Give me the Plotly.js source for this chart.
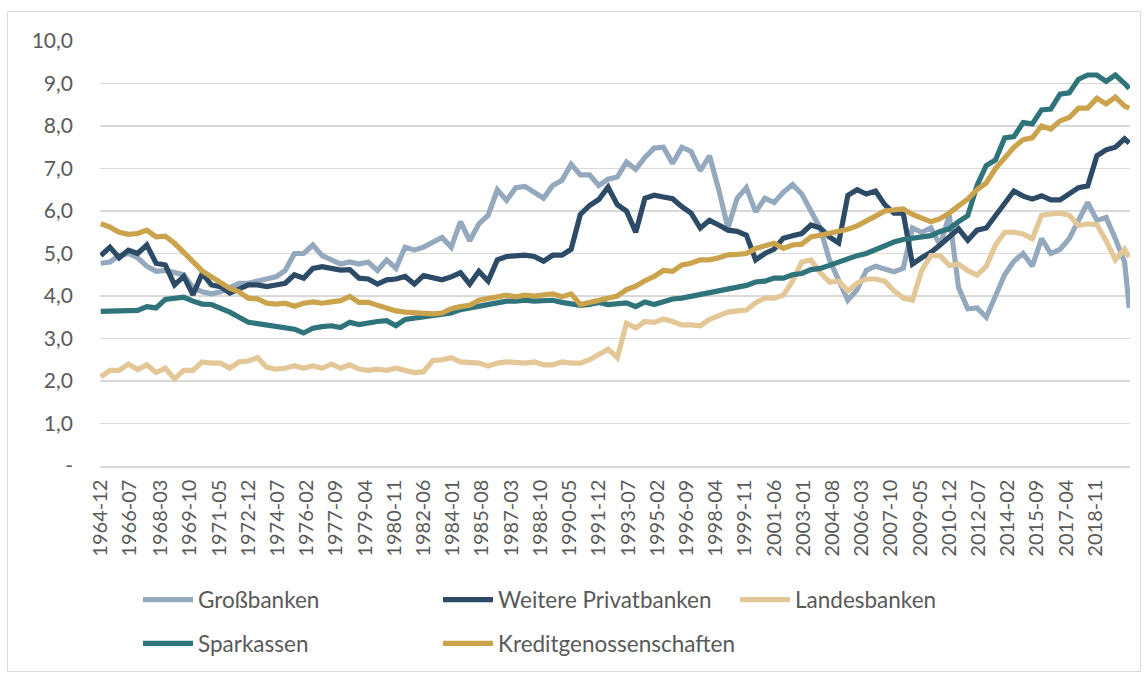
<!DOCTYPE html>
<html>
<head>
<meta charset="utf-8">
<script src="https://cdn.plot.ly/plotly-3.0.1.min.js"></script>
<style>
  html, body { margin: 0; padding: 0; background: #ffffff; }
  #wrap { position: relative; width: 1147px; height: 677px; }
  #chart { position: absolute; left: 0; top: 0; width: 1147px; height: 677px; }
  #frame { position: absolute; left: 7px; top: 11px; width: 1134px; height: 661px;
           border: 1px solid #d9d9d9; box-sizing: border-box; pointer-events: none; }
</style>
</head>
<body>
<div id="wrap">
  <div id="chart"></div>
  <div id="frame"></div>
</div>
<script>
// Semi-annual sample dates (first month of the sample)
const dates = [
  "1964-12",
  "1965-06","1965-12","1966-06","1966-12","1967-06","1967-12","1968-06","1968-12","1969-06","1969-12",
  "1970-06","1970-12","1971-06","1971-12","1972-06","1972-12","1973-06","1973-12","1974-06","1974-12",
  "1975-06","1975-12","1976-06","1976-12","1977-06","1977-12","1978-06","1978-12","1979-06","1979-12",
  "1980-06","1980-12","1981-06","1981-12","1982-06","1982-12","1983-06","1983-12","1984-06","1984-12",
  "1985-06","1985-12","1986-06","1986-12","1987-06","1987-12","1988-06","1988-12","1989-06","1989-12",
  "1990-06","1990-12","1991-06","1991-12","1992-06","1992-12","1993-06","1993-12","1994-06","1994-12",
  "1995-06","1995-12","1996-06","1996-12","1997-06","1997-12","1998-06","1998-12","1999-06","1999-12",
  "2000-06","2000-12","2001-06","2001-12","2002-06","2002-12","2003-06","2003-12","2004-06","2004-12",
  "2005-06","2005-12","2006-06","2006-12","2007-06","2007-12","2008-06","2008-12","2009-06","2009-12",
  "2010-06","2010-12","2011-06","2011-12","2012-06","2012-12","2013-06","2013-12","2014-06","2014-12",
  "2015-06","2015-12","2016-06","2016-12","2017-06","2017-12","2018-06","2018-12","2019-06","2019-12",
  "2020-06","2020-09"
];

const grossbanken = [
  4.77,4.80,4.95,5.00,4.90,4.70,4.58,4.60,4.55,4.50,4.20,
  4.10,4.05,4.10,4.20,4.30,4.30,4.35,4.40,4.45,4.60,
  5.00,5.00,5.20,4.95,4.85,4.75,4.80,4.75,4.80,4.60,
  4.85,4.65,5.15,5.08,5.15,5.28,5.38,5.15,5.75,5.30,
  5.70,5.90,6.50,6.25,6.55,6.58,6.45,6.30,6.60,6.72,
  7.10,6.85,6.85,6.60,6.75,6.80,7.15,6.98,7.26,7.48,
  7.50,7.12,7.50,7.40,6.95,7.30,6.50,5.60,6.30,6.55,
  5.98,6.30,6.20,6.44,6.62,6.40,6.00,5.60,4.85,4.40,
  3.90,4.15,4.60,4.70,4.62,4.57,4.65,5.60,5.50,5.60,
  5.20,5.90,4.20,3.70,3.72,3.50,4.00,4.50,4.82,5.00,
  4.70,5.35,5.00,5.10,5.35,5.80,6.20,5.78,5.85,5.35,
  4.80,3.72
];

const weiterePrivatbanken = [
  4.95,5.15,4.90,5.08,5.00,5.20,4.77,4.73,4.26,4.46,4.03,
  4.53,4.26,4.22,4.07,4.18,4.26,4.26,4.22,4.26,4.30,
  4.50,4.42,4.65,4.69,4.65,4.61,4.62,4.42,4.40,4.28,
  4.38,4.40,4.46,4.28,4.48,4.42,4.38,4.45,4.55,4.28,
  4.58,4.35,4.85,4.93,4.95,4.96,4.93,4.82,4.96,4.96,
  5.10,5.92,6.13,6.27,6.56,6.15,6.00,5.50,6.30,6.37,
  6.33,6.29,6.10,5.95,5.60,5.78,5.67,5.55,5.52,5.43,
  4.85,5.00,5.10,5.36,5.42,5.47,5.67,5.60,5.39,5.25,
  6.37,6.50,6.40,6.47,6.15,5.95,5.95,4.75,4.90,5.03,
  5.20,5.40,5.58,5.31,5.55,5.60,5.90,6.16,6.47,6.35,
  6.28,6.36,6.26,6.26,6.39,6.55,6.59,7.30,7.44,7.50,
  7.70,7.60
];

const landesbanken = [
  2.10,2.25,2.25,2.40,2.27,2.38,2.20,2.30,2.05,2.25,2.25,
  2.45,2.42,2.42,2.30,2.45,2.47,2.55,2.32,2.28,2.30,
  2.36,2.30,2.36,2.30,2.40,2.30,2.38,2.28,2.25,2.28,
  2.25,2.30,2.25,2.20,2.22,2.48,2.50,2.55,2.45,2.42,
  2.42,2.35,2.42,2.45,2.42,2.42,2.45,2.38,2.38,2.45,
  2.42,2.42,2.50,2.62,2.75,2.55,3.36,3.25,3.40,3.38,
  3.46,3.40,3.32,3.32,3.30,3.45,3.55,3.62,3.65,3.67,
  3.84,3.95,3.95,4.02,4.35,4.80,4.85,4.55,4.33,4.35,
  4.12,4.30,4.40,4.40,4.35,4.12,3.95,3.90,4.60,4.95,
  4.95,4.72,4.75,4.60,4.49,4.70,5.20,5.50,5.50,5.46,
  5.35,5.90,5.93,5.95,5.90,5.66,5.70,5.68,5.30,4.85,
  5.10,4.92
];

const sparkassen = [
  3.64,3.64,3.66,3.64,3.66,3.75,3.72,3.92,3.95,3.97,3.88,
  3.81,3.80,3.72,3.62,3.50,3.38,3.35,3.32,3.30,3.26,
  3.22,3.13,3.24,3.28,3.30,3.26,3.38,3.33,3.38,3.40,
  3.42,3.30,3.45,3.48,3.50,3.52,3.55,3.60,3.68,3.72,
  3.76,3.80,3.85,3.88,3.88,3.90,3.88,3.88,3.90,3.85,
  3.80,3.78,3.80,3.85,3.80,3.82,3.84,3.75,3.86,3.80,
  3.88,3.93,3.95,3.99,4.03,4.10,4.11,4.17,4.20,4.25,
  4.33,4.35,4.42,4.42,4.50,4.53,4.62,4.65,4.72,4.80,
  4.86,4.95,5.00,5.10,5.18,5.27,5.33,5.36,5.38,5.42,
  5.52,5.58,5.75,5.89,6.60,7.07,7.20,7.72,7.75,8.08,
  8.05,8.38,8.40,8.75,8.78,9.10,9.20,9.20,9.05,9.20,
  9.00,8.88
];

const kreditgenossenschaften = [
  5.70,5.62,5.50,5.45,5.47,5.55,5.39,5.41,5.24,5.04,4.81,
  4.59,4.46,4.34,4.18,4.10,3.95,3.93,3.83,3.81,3.83,
  3.76,3.83,3.86,3.83,3.86,3.89,3.99,3.85,3.85,3.78,
  3.72,3.65,3.62,3.60,3.58,3.58,3.60,3.70,3.75,3.78,
  3.90,3.95,3.98,4.02,3.98,4.02,4.00,4.02,4.05,3.98,
  4.05,3.80,3.85,3.88,3.95,4.00,4.15,4.23,4.36,4.46,
  4.60,4.58,4.73,4.77,4.85,4.85,4.90,4.97,4.98,5.00,
  5.12,5.18,5.24,5.12,5.20,5.22,5.39,5.43,5.47,5.52,
  5.57,5.65,5.78,5.88,6.00,6.02,6.05,5.92,5.83,5.75,
  5.82,5.95,6.12,6.28,6.50,6.66,7.00,7.25,7.50,7.68,
  7.72,8.00,7.93,8.12,8.20,8.42,8.42,8.65,8.52,8.68,
  8.47,8.42
];

const xTickLabels = [
  "1964-12","1966-07","1968-03","1969-10","1971-05","1972-12","1974-07","1976-02",
  "1977-09","1979-04","1980-11","1982-06","1984-01","1985-08","1987-03","1988-10",
  "1990-05","1991-12","1993-07","1995-02","1996-09","1998-04","1999-11","2001-06",
  "2003-01","2004-08","2006-03","2007-10","2009-05","2010-12","2012-07","2014-02",
  "2015-09","2017-04","2018-11"
];

const yTickValues = [0,1,2,3,4,5,6,7,8,9,10];
const yTickLabels = ["-","1,0","2,0","3,0","4,0","5,0","6,0","7,0","8,0","9,0","10,0"];

const seriesNames = ["Großbanken","Weitere Privatbanken","Landesbanken","Sparkassen","Kreditgenossenschaften"];
const seriesData = [grossbanken, weiterePrivatbanken, landesbanken, sparkassen, kreditgenossenschaften];
const seriesColors = ["#94a9bd","#2d4a66","#e3c797","#2f747a","#cba34c"];

// legend placement (pixel positions, converted to paper coordinates below)
const PLOT_L = 100, PLOT_R = 1130, PLOT_T = 41, PLOT_B = 469;
const legendPix = [[138,604],[438,604],[735,604],[138,648],[438,648]];
const legendKeys = ["legend","legend2","legend3","legend4","legend5"];

const FONT = "Lato, 'Open Sans', sans-serif";
const TXT = "#595959";

const toDate = s => s + "-01";

const traces = seriesNames.map((name, i) => ({
  type: "scatter",
  mode: "lines",
  name: name,
  x: dates.map(toDate),
  y: seriesData[i],
  line: { color: seriesColors[i], width: 5.2, shape: "linear" },
  legend: legendKeys[i],
  hoverinfo: "x+y+name"
}));

const layout = {
  width: 1147,
  height: 677,
  margin: { l: PLOT_L, r: 1147 - PLOT_R, t: PLOT_T, b: 677 - PLOT_B },
  paper_bgcolor: "#ffffff",
  plot_bgcolor: "#ffffff",
  font: { family: FONT, color: TXT, size: 21 },
  showlegend: true,
  xaxis: {
    type: "date",
    range: ["1964-11-16", "2020-09-16"],
    tickmode: "array",
    tickvals: xTickLabels.map(toDate),
    ticktext: xTickLabels,
    tickangle: -90,
    ticks: "",
    showgrid: false,
    zeroline: false,
    showline: true,
    linecolor: "#d9d9d9",
    linewidth: 1.6,
    tickfont: { family: FONT, size: 20, color: TXT },
    ticklabelstandoff: 4
  },
  yaxis: {
    range: [0, 10],
    tickmode: "array",
    tickvals: yTickValues,
    ticktext: yTickLabels,
    showgrid: true,
    gridcolor: "#d9d9d9",
    gridwidth: 1.6,
    zeroline: false,
    showline: false,
    ticks: "",
    tickfont: { family: FONT, size: 21, color: TXT },
    ticklabelstandoff: 26
  }
};

legendKeys.forEach((k, i) => {
  const [px, py] = legendPix[i];
  layout[k] = {
    x: (px - PLOT_L) / (PLOT_R - PLOT_L),
    y: (PLOT_B - py) / (PLOT_B - PLOT_T),
    xanchor: "left",
    yanchor: "middle",
    orientation: "h",
    bgcolor: "rgba(0,0,0,0)",
    font: { family: FONT, size: 22.5, color: TXT },
    itemwidth: 50
  };
});

Plotly.newPlot("chart", traces, layout, { displayModeBar: false, staticPlot: true });
</script>
</body>
</html>
